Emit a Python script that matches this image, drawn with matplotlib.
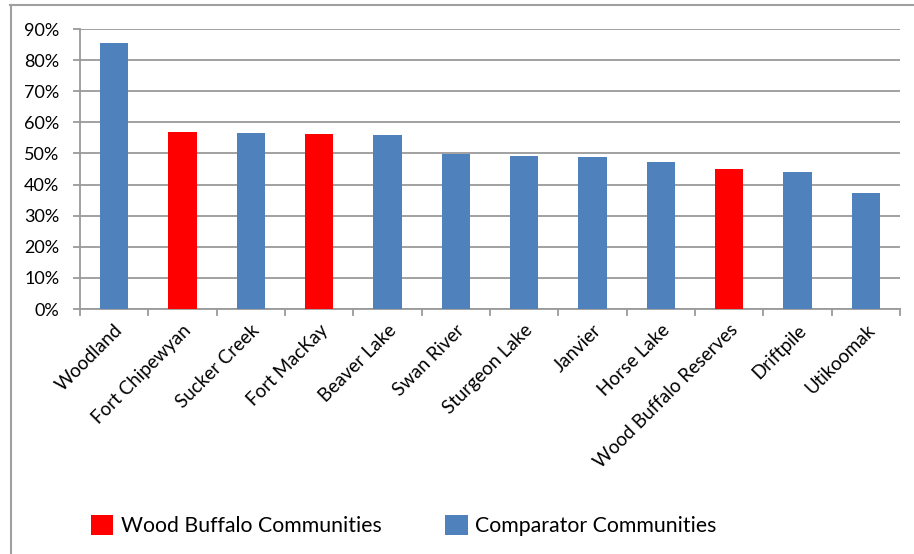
import matplotlib.pyplot as plt
from matplotlib.lines import Line2D
from matplotlib.patches import Patch
from matplotlib.ticker import PercentFormatter

plt.rcParams['font.family'] = ['Lato', 'DejaVu Sans']

communities = ["Woodland", "Fort Chipewyan", "Sucker Creek", "Fort MacKay",
               "Beaver Lake", "Swan River", "Sturgeon Lake", "Janvier",
               "Horse Lake", "Wood Buffalo Reserves", "Driftpile", "Utikoomak"]
values = [85.5, 57.0, 56.7, 56.3, 56.0, 49.9, 49.3, 48.9, 47.3, 45.0, 44.0, 37.2]
wood_buffalo = ["Fort Chipewyan", "Fort MacKay", "Wood Buffalo Reserves"]
y_ticks = [0, 10, 20, 30, 40, 50, 60, 70, 80, 90]

red = "#FF0000"
blue = "#4F81BD"
grid_col = "#9a9a9a"

W, H = 914, 554
fig = plt.figure(figsize=(W / 100, H / 100), dpi=100)
ax = fig.add_axes([80 / W, 1 - 309 / H, 820 / W, 280 / H])

colors = [red if c in wood_buffalo else blue for c in communities]
x = list(range(len(communities)))
ax.bar(x, values, width=0.41, color=colors, zorder=3)

ax.set_xlim(-0.5, len(communities) - 0.5)
ax.set_ylim(0, 90)
ax.set_yticks(y_ticks)
ax.yaxis.set_major_formatter(PercentFormatter(decimals=0))
ax.grid(axis="y", color=grid_col, linewidth=1.3, zorder=0)
ax.tick_params(axis="y", length=5, color=grid_col, width=1.3, labelsize=13, pad=10)

ax.set_xticks(x)
ax.set_xticklabels(communities, rotation=45, ha="right", rotation_mode="anchor",
                   fontsize=13.5)
ax.tick_params(axis="x", length=0, pad=9)
# boundary tick marks between categories
for b in [i - 0.5 for i in range(len(communities) + 1)]:
    ax.plot([b, b], [0, -1.8], color=grid_col, lw=1.3, clip_on=False, zorder=2)

for side in ["top", "right"]:
    ax.spines[side].set_visible(False)
ax.spines["left"].set_color(grid_col)
ax.spines["left"].set_linewidth(1.3)
ax.spines["bottom"].set_color(grid_col)
ax.spines["bottom"].set_linewidth(1.3)

# outer chart frame (cropped at right and bottom)
fig.add_artist(Line2D([10.5 / W, 10.5 / W], [0, 1 - 5 / H], transform=fig.transFigure,
                      color="#a0a0a0", lw=1.5))
fig.add_artist(Line2D([10 / W, 1], [1 - 5 / H, 1 - 5 / H], transform=fig.transFigure,
                      color="#a0a0a0", lw=1.5))

handles = [Patch(facecolor=red, label="Wood Buffalo Communities"),
           Patch(facecolor=blue, label="Comparator Communities")]
fig.legend(handles=handles, loc="center left", bbox_to_anchor=(91 / W, 1 - 525.5 / H),
           ncol=2, frameon=False, fontsize=15.3, handlelength=1.05, handleheight=1.1,
           handletextpad=0.35, columnspacing=3.0, borderpad=0, borderaxespad=0)

fig.savefig("out.png", dpi=100)
